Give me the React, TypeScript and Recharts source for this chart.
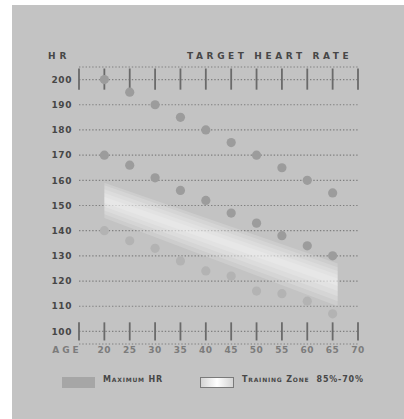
import React from 'react';
import { ComposedChart, Area, Scatter, XAxis, YAxis, CartesianGrid, ReferenceLine } from 'recharts';

// ages with a reading, and the three sets of dots
const ages = [20, 25, 30, 35, 40, 45, 50, 55, 60, 65];
const maxHr = [200, 195, 190, 185, 180, 175, 170, 165, 160, 155];
const zoneHigh = [170, 166, 161, 156, 152, 147, 143, 138, 134, 130];
const zoneLow = [140, 136, 133, 128, 124, 122, 116, 115, 112, 107];

// axis ticks
const ageTicks = [15, 20, 25, 30, 35, 40, 45, 50, 55, 60, 65, 70];
const hrTicks = [100, 110, 120, 130, 140, 150, 160, 170, 180, 190, 200];

// white training zone band, layered from the soft edge to the bright middle (left and right ends)
const bandAges = [20, 66];
const bandLayerLow = [
  [145, 110],
  [146.5, 112],
  [148, 114],
  [149.5, 116],
  [151, 118],
];
const bandLayerHigh = [
  [159, 127],
  [158, 125.5],
  [156.5, 124],
  [155, 122.5],
  [153.5, 121],
];

const bandData = bandAges.map((age, i) => {
  const row: any = { age };
  bandLayerLow.forEach((low, k) => {
    row['layer' + k] = [low[i], bandLayerHigh[k][i]];
  });
  return row;
});

const toPoints = (values: number[]) => ages.map((age, i) => ({ age, hr: values[i] }));

const FONT = '"DejaVu Sans", sans-serif';
const PANEL = '#c3c3c3';

const dot = (fill: string) => (p: any) => (
  <circle cx={p.cx} cy={p.cy} r={4.6} fill={fill} />
);

const AgeTick = (props: any) => {
  const { x, y, payload } = props;
  const isAge = payload.value === 15;
  return (
    <text
      x={isAge ? x - 12 : x}
      y={y}
      dy="0.71em"
      textAnchor="middle"
      fill="#7c7c7c"
      fontFamily={FONT}
      fontWeight="bold"
      fontSize={9}
      letterSpacing={isAge ? 3 : 0.5}
    >
      {isAge ? 'AGE' : payload.value}
    </text>
  );
};

export default function App() {
  return (
    <div style={{ position: 'absolute', left: 0, top: 0, width: 404, height: 419, background: '#fff' }}>
      <div style={{ position: 'absolute', left: 12, top: 5, width: 392, height: 414, background: PANEL }}>
        <div
          style={{
            position: 'absolute', left: 36, top: 46, fontFamily: FONT, fontWeight: 'bold',
            fontSize: 9, letterSpacing: 4, color: '#474747',
          }}
        >
          HR
        </div>
        <div
          style={{
            position: 'absolute', left: 175, top: 46, fontFamily: FONT, fontWeight: 'bold',
            fontSize: 9, letterSpacing: 3.6, color: '#474747', whiteSpace: 'nowrap',
          }}
        >
          TARGET HEART RATE
        </div>

        <ComposedChart
          width={392}
          height={414}
          data={bandData}
          margin={{ top: 62, right: 46, left: 37, bottom: 55 }}
        >
          <CartesianGrid
            horizontal
            vertical={false}
            stroke="#808080"
            strokeDasharray="1.4 1.9"
            strokeWidth={1.2}
          />
          <XAxis
            type="number"
            dataKey="age"
            domain={[15, 70]}
            ticks={ageTicks}
            axisLine={false}
            tickLine={false}
            tickSize={0}
            tickMargin={3}
            height={20}
            tick={<AgeTick />}
            interval={0}
          />
          <YAxis
            type="number"
            dataKey="hr"
            domain={[95, 205]}
            ticks={hrTicks}
            axisLine={false}
            tickLine={false}
            tickMargin={1}
            width={30}
            interval={0}
            allowDataOverflow
            tick={{ fontSize: 9, fontWeight: 'bold', fill: '#474747', fontFamily: FONT, letterSpacing: 0.6 }}
          />
          <Scatter data={toPoints(zoneLow)} shape={dot('#b3b3b3')} isAnimationActive={false} />
          {bandLayerLow.map((_, k) => (
            <Area
              key={'layer' + k}
              dataKey={'layer' + k}
              type="linear"
              stroke="none"
              fill="#ffffff"
              fillOpacity={0.17}
              isAnimationActive={false}
            />
          ))}
          {ageTicks.map((a) => (
            <ReferenceLine
              key={'t' + a}
              segment={[{ x: a, y: 196 }, { x: a, y: 204.4 }]}
              stroke="#6a6a6a"
              strokeWidth={1.8}
            />
          ))}
          {ageTicks.map((a) => (
            <ReferenceLine
              key={'b' + a}
              segment={[{ x: a, y: 96.4 }, { x: a, y: 103.6 }]}
              stroke="#6a6a6a"
              strokeWidth={1.8}
            />
          ))}
          <Scatter data={toPoints(zoneHigh)} shape={dot('#9c9c9c')} isAnimationActive={false} />
          <Scatter data={toPoints(maxHr)} shape={dot('#9c9c9c')} isAnimationActive={false} />
        </ComposedChart>

        <div style={{ position: 'absolute', left: 50, top: 372, width: 33, height: 11, background: '#a6a6a6' }} />
        <div
          style={{
            position: 'absolute', left: 91, top: 370, fontFamily: FONT, fontWeight: 'bold', fontSize: 8,
            fontVariant: 'small-caps', letterSpacing: 0.8, color: '#474747', whiteSpace: 'nowrap',
          }}
        >
          Maximum HR
        </div>
        <div
          style={{
            position: 'absolute', left: 188, top: 372, width: 32, height: 9, border: '1px solid #7a7a7a',
            background: 'linear-gradient(90deg, #d4d4d4, #ffffff, #d4d4d4)',
          }}
        />
        <div
          style={{
            position: 'absolute', left: 230, top: 370, fontFamily: FONT, fontWeight: 'bold', fontSize: 8,
            fontVariant: 'small-caps', letterSpacing: 0.8, color: '#474747', whiteSpace: 'nowrap',
          }}
        >
          Training Zone&nbsp; 85%-70%
        </div>
      </div>
    </div>
  );
}
